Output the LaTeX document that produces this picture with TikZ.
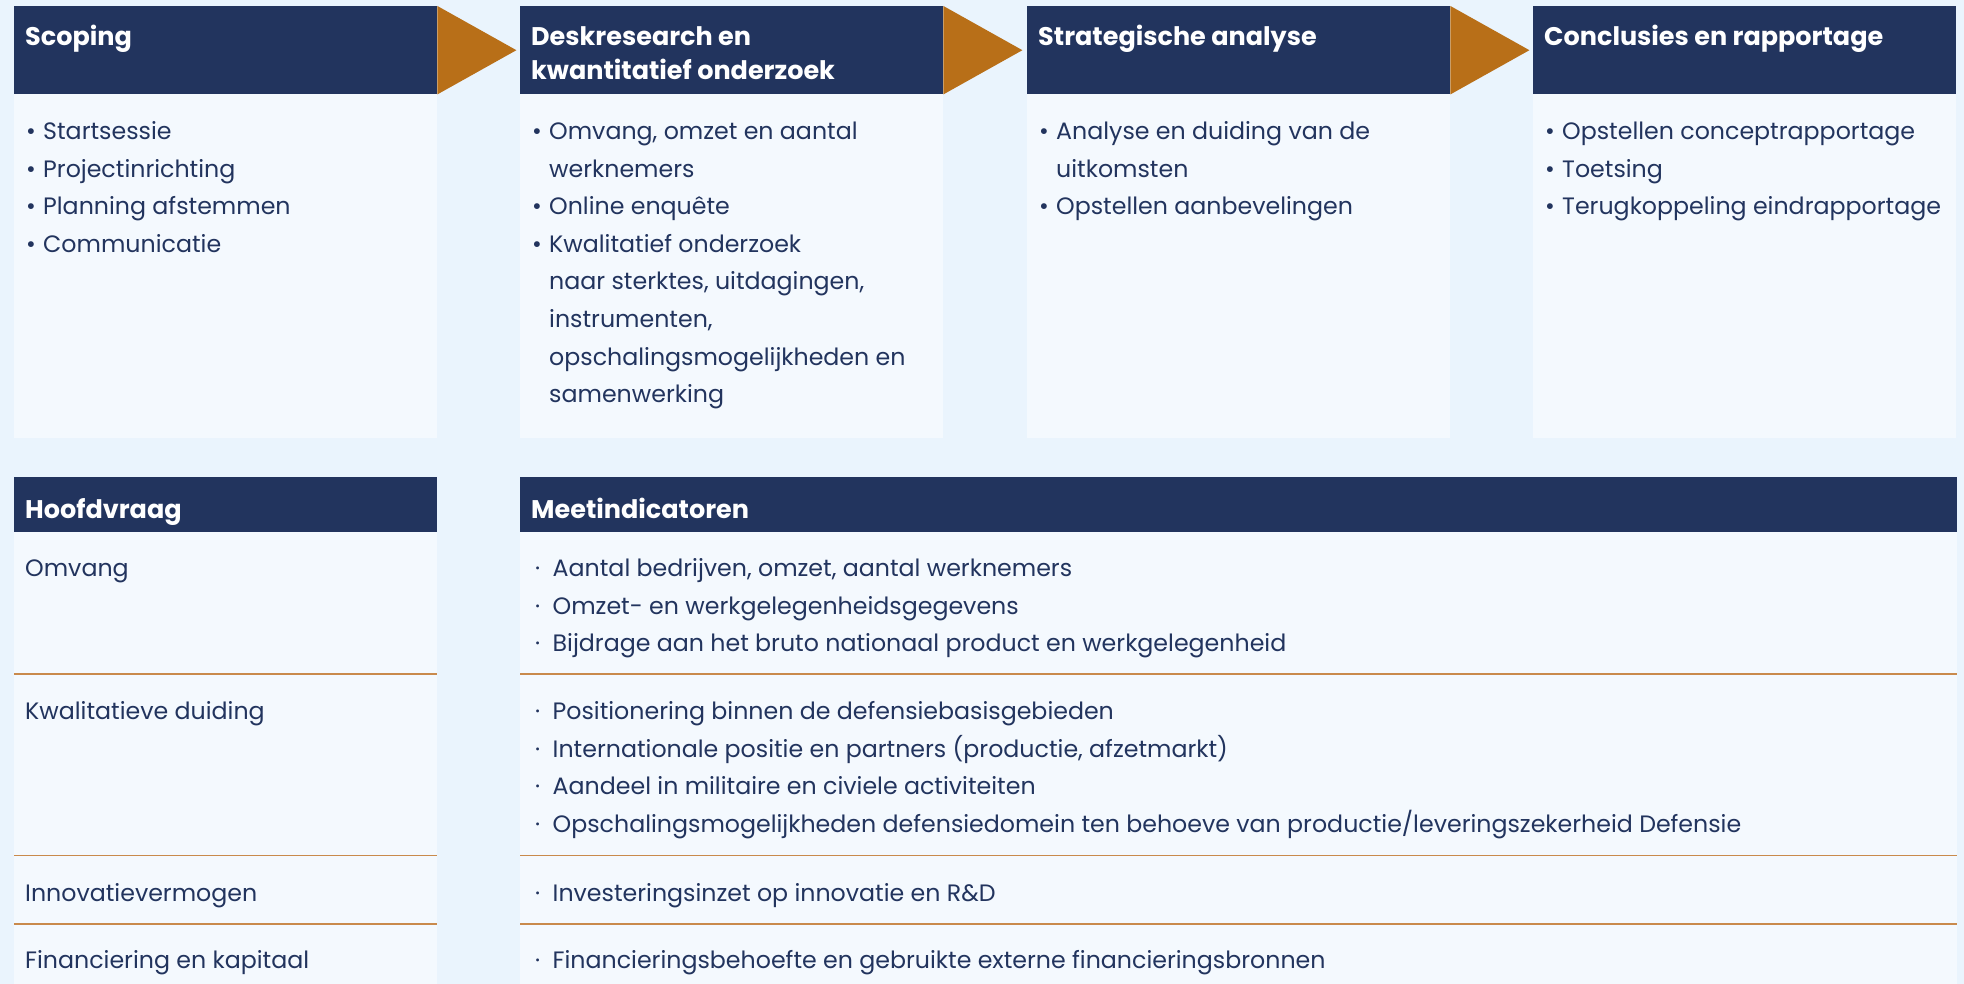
\documentclass[tikz,border=0pt]{standalone}
\usepackage{fontspec}
\setmainfont{Poppins}
\definecolor{navy}{HTML}{22345E}
\definecolor{pagebg}{HTML}{EAF4FD}
\definecolor{cellbg}{HTML}{F4F9FE}
\definecolor{arroworange}{HTML}{B86F18}
\definecolor{sepline}{HTML}{C98A4C}
\tikzset{
  headbox/.style={fill=navy, draw=none, inner sep=0pt, anchor=north west, minimum width=423pt},
  cellbox/.style={fill=cellbg, draw=none, inner sep=0pt, anchor=north west},
  headtext/.style={text=white, inner sep=0pt, anchor=base west, font=\bfseries\fontsize{25.5}{30}\selectfont},
  bodytext/.style={text=navy, inner sep=0pt, anchor=base west, font=\fontsize{23.7}{30}\selectfont},
  chevron/.style={fill=arroworange, draw=none},
  sepstyle/.style={draw=sepline, line width=1.3pt}
}
\newcommand{\bul}{\makebox[17pt][l]{•}}
\newcommand{\dotb}{\makebox[17.5pt][l]{·}}
\begin{document}
\begin{tikzpicture}[x=1pt,y=-1pt]
\fill[pagebg] (0,0) rectangle (1964,984);
\useasboundingbox (0,0) rectangle (1964,984);

% ---------- top row: phases ----------
\foreach \i/\x in {1/14,2/520,3/1027,4/1533}{
  \node[cellbox, minimum width=423pt, minimum height=344pt] (body\i) at (\x,94) {};
  \node[headbox, minimum height=88pt] (head\i) at (\x,6) {};
}
\foreach \i in {1,2,3}{
  \coordinate (tip\i) at ([xshift=79pt]head\i.east);
  \fill[chevron] (head\i.north east) -- (tip\i) -- (head\i.south east) -- cycle;
}

\node[headtext] (h1t) at (25,45.5) {Scoping};
\node[headtext] (h2t) at (531,45.5) {Deskresearch en};
\node[headtext] (h2u) at (531,79.5) {kwantitatief onderzoek};
\node[headtext] (h3t) at (1038,45.5) {Strategische analyse};
\node[headtext] (h4t) at (1544,45.5) {Conclusies en rapportage};

\foreach \t [count=\k from 0] in {Startsessie,Projectinrichting,Planning afstemmen,Communicatie}{
  \node[bodytext] (b1l\k) at (26,139.5+37.6*\k) {\bul\t};
}
\foreach \b/\t [count=\k from 0] in {1/{Omvang, omzet en aantal},0/werknemers,1/Online enquête,1/Kwalitatief onderzoek,0/{naar sterktes, uitdagingen,},0/{instrumenten,},0/opschalingsmogelijkheden en,0/samenwerking}{
  \ifnum\b=1
    \node[bodytext] (b2l\k) at (532,139.5+37.6*\k) {\bul\t};
  \else
    \node[bodytext] (b2l\k) at (549,139.5+37.6*\k) {\t};
  \fi
}
\foreach \b/\t [count=\k from 0] in {1/Analyse en duiding van de,0/uitkomsten,1/Opstellen aanbevelingen}{
  \ifnum\b=1
    \node[bodytext] (b3l\k) at (1039,139.5+37.6*\k) {\bul\t};
  \else
    \node[bodytext] (b3l\k) at (1056,139.5+37.6*\k) {\t};
  \fi
}
\foreach \t [count=\k from 0] in {Opstellen conceptrapportage,Toetsing,Terugkoppeling eindrapportage}{
  \node[bodytext] (b4l\k) at (1545,139.5+37.6*\k) {\bul\t};
}

% ---------- bottom table ----------
\node[cellbox, minimum width=423pt, minimum height=452pt] (tleft) at (14,532) {};
\node[cellbox, minimum width=1437pt, minimum height=452pt] (tright) at (520,532) {};
\node[headbox, minimum height=55pt] (hq) at (14,477) {};
\node[headbox, minimum width=1437pt, minimum height=55pt] (mi) at (520,477) {};
\node[headtext] (hqt) at (25,518) {Hoofdvraag};
\node[headtext] (mit) at (531,518) {Meetindicatoren};

\foreach \y [count=\k] in {674,855.5,924}{
  \coordinate (sl\k) at (14,\y);
  \coordinate (sr\k) at (1957,\y);
  \draw[sepstyle] (sl\k) -- ++(423,0);
  \draw[sepstyle] ([xshift=506pt]sl\k) -- (sr\k);
}

\node[bodytext] (q1) at (25,576.7) {Omvang};
\node[bodytext] (q2) at (25,719.5) {Kwalitatieve duiding};
\node[bodytext] (q3) at (25,901) {Innovatievermogen};
\node[bodytext] (q4) at (25,968.7) {Financiering en kapitaal};

\foreach \t [count=\k from 0] in {{Aantal bedrijven, omzet, aantal werknemers},Omzet- en werkgelegenheidsgegevens,Bijdrage aan het bruto nationaal product en werkgelegenheid}{
  \node[bodytext] (m1l\k) at (535,576.7+37.6*\k) {\dotb\t};
}
\foreach \t [count=\k from 0] in {Positionering binnen de defensiebasisgebieden,{Internationale positie en partners (productie, afzetmarkt)},Aandeel in militaire en civiele activiteiten,Opschalingsmogelijkheden defensiedomein ten behoeve van productie/leveringszekerheid Defensie}{
  \node[bodytext] (m2l\k) at (535,719.5+37.6*\k) {\dotb\t};
}
\node[bodytext] (m3l0) at (535,901) {\dotb Investeringsinzet op innovatie en R\&D};
\node[bodytext] (m4l0) at (535,968.7) {\dotb Financieringsbehoefte en gebruikte externe financieringsbronnen};
\end{tikzpicture}
\end{document}
